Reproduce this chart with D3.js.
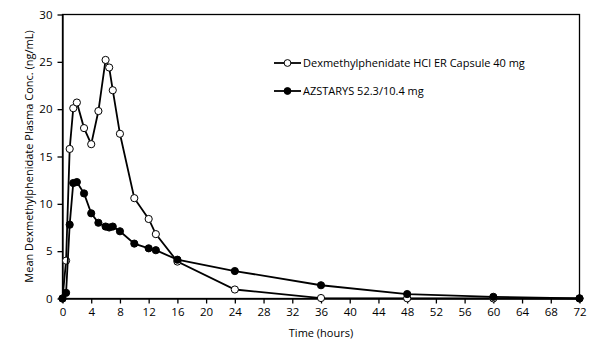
<!DOCTYPE html>
<html><head><meta charset="utf-8">
<script src="https://cdn.jsdelivr.net/npm/d3@7"></script>
<style>body{margin:0;background:#fff}svg{display:block}text{font-family:"Open Sans","Noto Sans",sans-serif;fill:#000}</style>
</head><body><svg id="c" width="598" height="354"></svg>
<script>
const timesA = [0,0.5,1,1.5,2,3,4,5,6,6.5,7,8,10,12,13,16,24,36,48,60,72];
const dexER = [0,4.0,15.8,20.1,20.7,18.0,16.3,19.8,25.2,24.4,22.0,17.4,10.6,8.4,6.8,3.9,0.95,0.05,0.02,0.01,0];
const azstarys = [0,0.6,7.8,12.2,12.3,11.1,9.0,8.0,7.6,7.5,7.6,7.1,5.8,5.3,5.1,4.1,2.9,1.4,0.47,0.18,0.02];
const xTicks = [0,4,8,12,16,20,24,28,32,36,40,44,48,52,56,60,64,68,72];
const yTicks = [0,5,10,15,20,25,30];
const seriesNames = ["Dexmethylphenidate HCl ER Capsule 40 mg","AZSTARYS 52.3/10.4 mg"];

const svg = d3.select("#c");
const L=62.5, R=579.5, T=14.5, B=298.5;
const x = d3.scaleLinear().domain([0,72]).range([L,R]);
const y = d3.scaleLinear().domain([0,30]).range([B,T]);

svg.append("rect").attr("x",L).attr("y",T).attr("width",R-L).attr("height",B-T)
  .attr("fill","none").attr("stroke","#000").attr("stroke-width",1.3);

const xa = svg.append("g").attr("transform",`translate(0,${B})`)
  .call(d3.axisBottom(x).tickValues(xTicks).tickSize(5).tickPadding(4).tickSizeOuter(0));
const ya = svg.append("g").attr("transform",`translate(${L},0)`)
  .call(d3.axisLeft(y).tickValues(yTicks).tickSize(5).tickPadding(5).tickSizeOuter(0));
[xa,ya].forEach(a=>{
  a.select(".domain").attr("stroke","#000").attr("stroke-width",1.3);
  a.selectAll("line").attr("stroke","#000").attr("stroke-width",1.3);
  a.selectAll("text").style("font-size","11.5px").attr("fill","#000");
});

svg.append("text").attr("x",(L+R)/2).attr("y",337).attr("text-anchor","middle")
  .style("font-size","11px").text("Time (hours)");
svg.append("text").attr("transform",`translate(33,${(T+B)/2}) rotate(-90)`).attr("text-anchor","middle")
  .style("font-size","11px").text("Mean Dexmethylphenidate Plasma Conc. (ng/mL)");

const line = d3.line().x(d=>x(d[0])).y(d=>y(d[1]));
const dA = timesA.map((t,i)=>[t,dexER[i]]);
const dB = timesA.map((t,i)=>[t,azstarys[i]]);

function drawSeries(data, fill){
  svg.append("path").datum(data).attr("d",line).attr("fill","none").attr("stroke","#000").attr("stroke-width",1.8);
  svg.append("g").selectAll("circle").data(data).join("circle")
    .attr("cx",d=>x(d[0])).attr("cy",d=>y(d[1])).attr("r",3.6)
    .attr("fill",fill).attr("stroke","#000").attr("stroke-width",1);
}
drawSeries(dA,"#fff");
drawSeries(dB,"#000");

const leg = [{n:seriesNames[0],f:"#fff",y:63},{n:seriesNames[1],f:"#000",y:91}];
leg.forEach(l=>{
  svg.append("line").attr("x1",274).attr("x2",301).attr("y1",l.y).attr("y2",l.y).attr("stroke","#000").attr("stroke-width",1.8);
  svg.append("circle").attr("cx",287.5).attr("cy",l.y).attr("r",3.4).attr("fill",l.f).attr("stroke","#000");
  svg.append("text").attr("x",303).attr("y",l.y+4).style("font-size","11px").text(l.n);
});
</script></body></html>
